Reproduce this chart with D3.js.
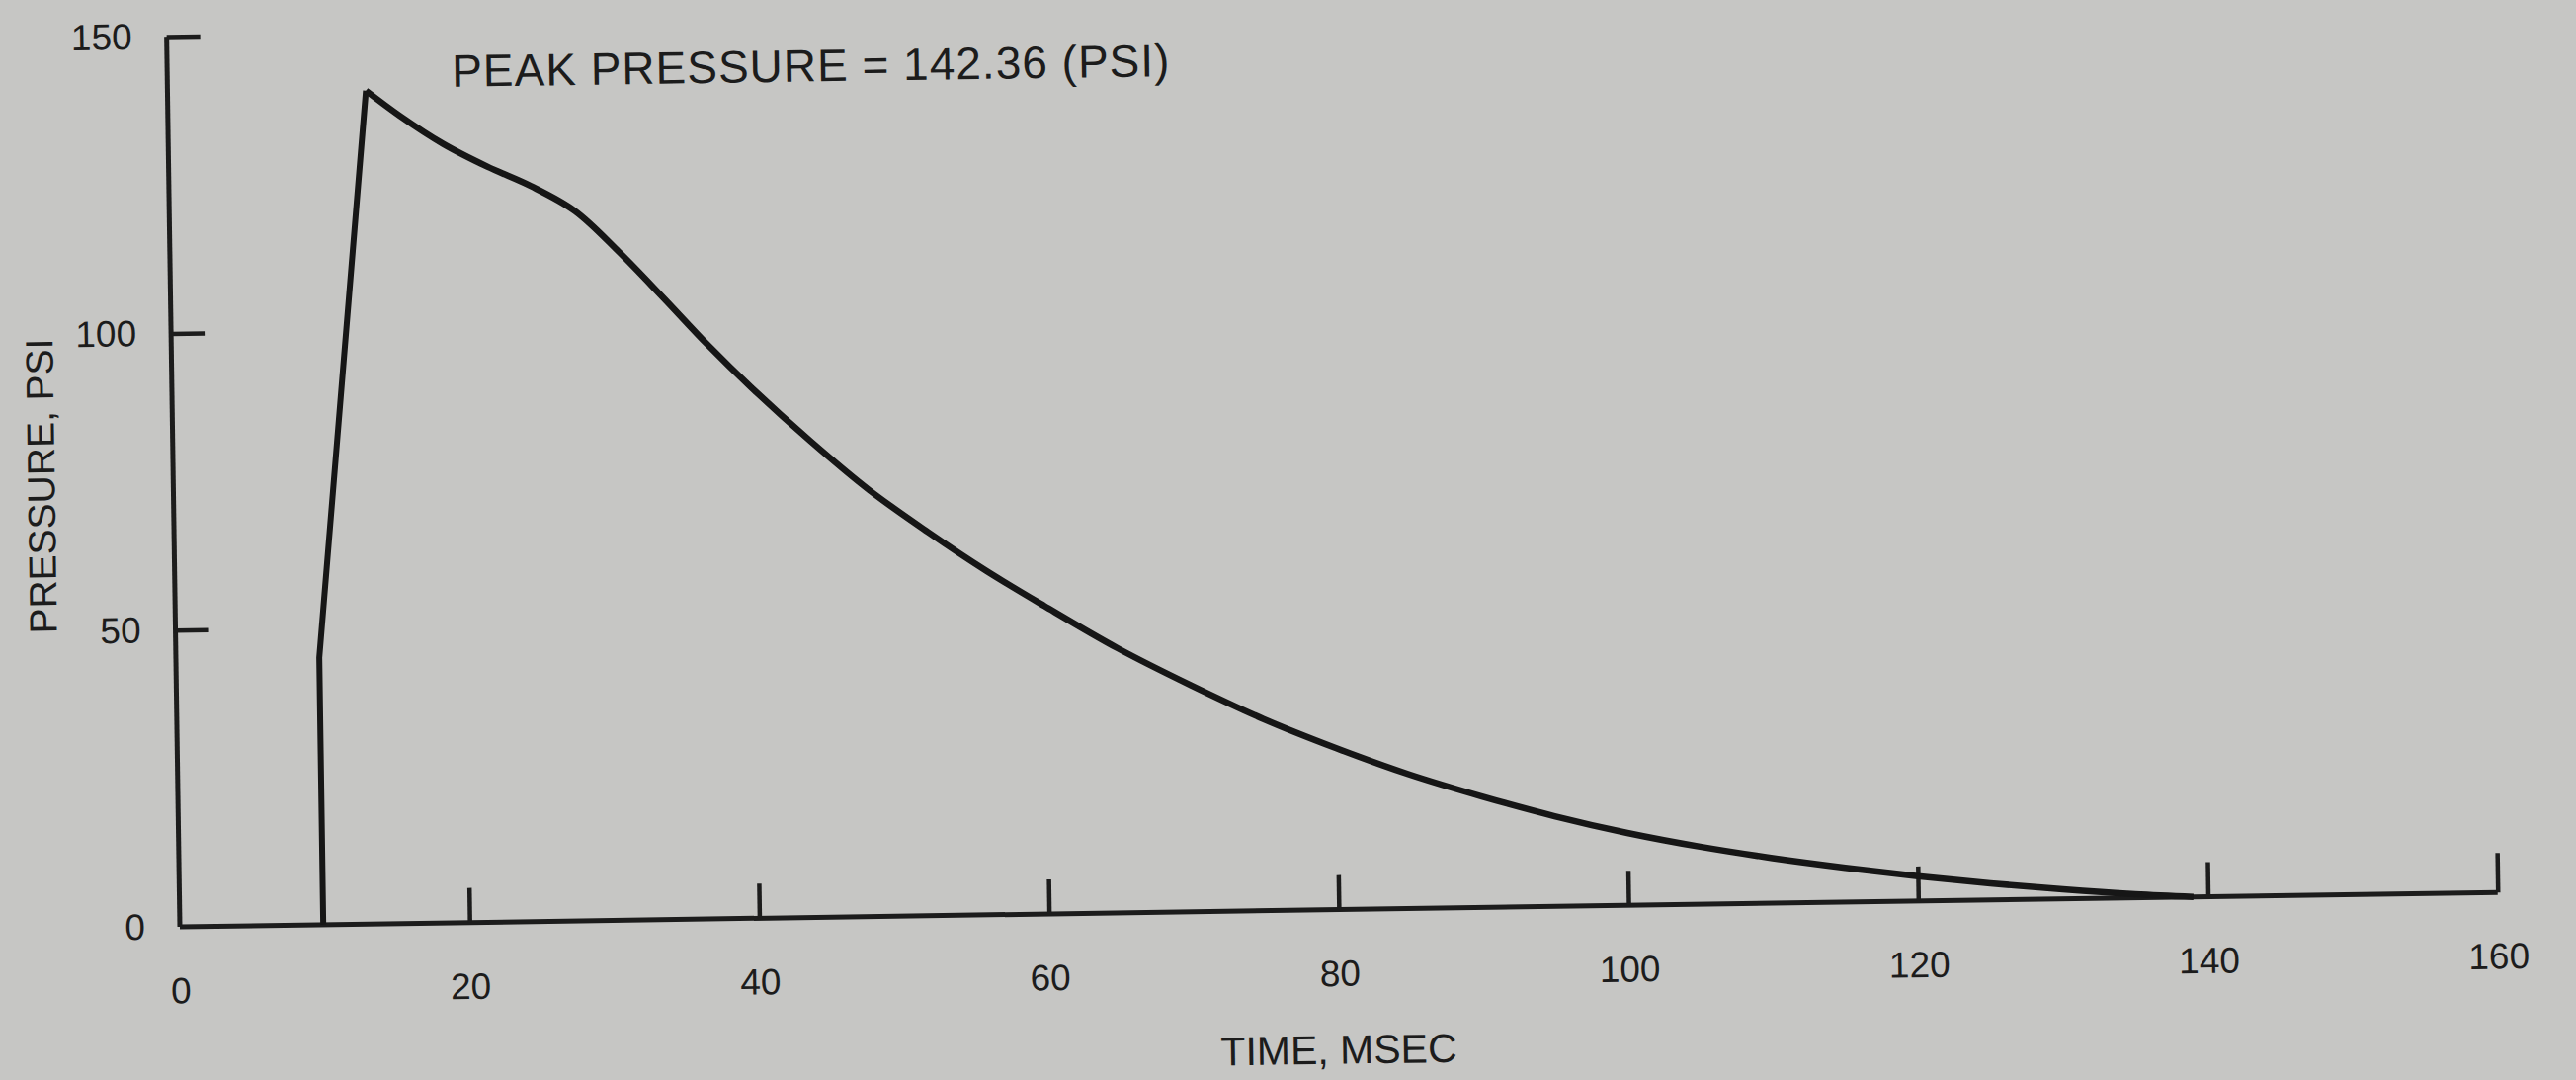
<!DOCTYPE html>
<html>
<head>
<meta charset="utf-8">
<script src="https://cdn.jsdelivr.net/npm/d3@7"></script>
<style>
  html, body { margin: 0; padding: 0; background: #c6c6c4; }
  svg { display: block; }
  text { font-family: "Liberation Sans", Arial, Helvetica, sans-serif; fill: #1c1c1c; }
</style>
</head>
<body>
<svg id="chart" width="2607" height="1093"></svg>
<script>
// ---- data (time in msec, pressure in psi) ----
const riseTime = [9.9, 9.9, 13.7];
const risePressure = [0, 45, 140.4];
const decayTime = [13.7, 16, 19, 22, 25, 28, 31, 34, 37, 40, 44, 48, 52, 56, 60, 65, 70, 75, 80, 85, 90, 95, 100, 105, 110, 115, 120, 125, 130, 135, 139];
const decayPressure = [140.4, 136.1, 131.2, 127.3, 123.9, 119.6, 112.6, 104.8, 96.8, 89.4, 80.3, 71.9, 64.7, 58.0, 51.9, 44.6, 38.2, 32.3, 27.2, 22.6, 18.7, 15.2, 12.2, 9.7, 7.6, 5.8, 4.2, 2.8, 1.6, 0.6, 0];
const xTicks = [0, 20, 40, 60, 80, 100, 120, 140, 160];
const yTicks = [0, 50, 100, 150];
const xLabel = "TIME, MSEC";
const yLabel = "PRESSURE, PSI";
const peakLabel = "PEAK PRESSURE = 142.36 (PSI)";

const svg = d3.select("#chart");
const ox = 182, oy = 938;
const x = d3.scaleLinear().domain([0, 160]).range([ox, ox + 2346]);
const y = d3.scaleLinear().domain([0, 150]).range([oy, 37]);
const ink = "#1c1c1c";

// the scanned page is slightly rotated
const g = svg.append("g").attr("transform", `rotate(-0.85, ${ox}, ${oy})`);

// x axis with upward ticks
const xAxis = d3.axisBottom(x).tickValues(xTicks).tickSize(0).tickFormat(d3.format("d")).tickPadding(51);
const gx = g.append("g").attr("transform", `translate(0,${oy})`).call(xAxis);
gx.select(".domain").attr("stroke", ink).attr("stroke-width", 5).attr("d", `M${x(0)},0H${x(160)}`);
gx.selectAll(".tick text").attr("font-size", 37).attr("fill", ink);
gx.selectAll(".tick").filter(d => d > 0).append("line")
  .attr("y1", 0).attr("y2", d => d === 160 ? -40 : -35)
  .attr("stroke", ink).attr("stroke-width", 4.5);

// y axis with inward ticks
const yAxis = d3.axisLeft(y).tickValues(yTicks).tickSize(0).tickFormat(d3.format("d")).tickPadding(35);
const gy = g.append("g").attr("transform", `translate(${ox},0)`).call(yAxis);
gy.select(".domain").attr("stroke", ink).attr("stroke-width", 5).attr("d", `M0,${y(0)}V${y(150)}`);
gy.selectAll(".tick text").attr("font-size", 37).attr("fill", ink);
gy.selectAll(".tick").filter(d => d > 0).append("line")
  .attr("x1", 0).attr("x2", 34)
  .attr("stroke", ink).attr("stroke-width", 4.5);

// pressure trace
const riseData = riseTime.map((t, i) => [t, risePressure[i]]);
const decayData = decayTime.map((t, i) => [t, decayPressure[i]]);
g.append("path").datum(riseData)
  .attr("d", d3.line().x(d => x(d[0])).y(d => y(d[1])).curve(d3.curveLinear))
  .attr("fill", "none").attr("stroke", "#161616").attr("stroke-width", 6).attr("stroke-linejoin", "miter");
g.append("path").datum(decayData)
  .attr("d", d3.line().x(d => x(d[0])).y(d => y(d[1])).curve(d3.curveCatmullRom.alpha(0.5)))
  .attr("fill", "none").attr("stroke", "#161616").attr("stroke-width", 6.5);

// labels
g.append("text").attr("x", 1353).attr("y", 1094).attr("text-anchor", "middle")
  .attr("font-size", 41).text(xLabel);
g.append("text").attr("transform", `translate(62, 490) rotate(-90)`).attr("text-anchor", "middle")
  .attr("font-size", 39).text(yLabel);
g.append("text").attr("x", 470).attr("y", 92).attr("letter-spacing", 1)
  .attr("font-size", 46).text(peakLabel);
</script>
</body>
</html>
